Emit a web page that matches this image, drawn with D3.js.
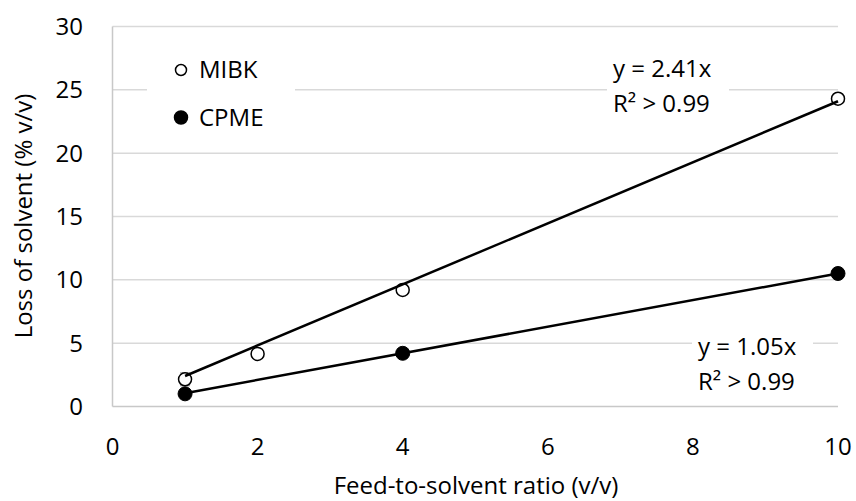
<!DOCTYPE html>
<html>
<head>
<meta charset="utf-8">
<script src="https://cdn.jsdelivr.net/npm/d3@7"></script>
<style>
  body { margin: 0; background: #fff; }
  svg { display: block; font-family: "Open Sans", sans-serif; }
  .tick-label { font-size: 24px; fill: #000; }
  .axis-title { font-size: 24px; fill: #000; }
  .note { font-size: 24px; fill: #000; }
</style>
</head>
<body>
<div id="chart"></div>
<script>
// data
var mibkX = [1, 2, 4, 10];
var mibkY = [2.15, 4.15, 9.2, 24.3];
var mibkErr = [0.5, 0, 0.25, 0];
var cpmeX = [1, 4, 10];
var cpmeY = [1.0, 4.2, 10.5];
var cpmeErr = [0, 0, 0];
var xTicks = [0, 2, 4, 6, 8, 10];
var yTicks = [0, 5, 10, 15, 20, 25, 30];
var fitSlopes = [2.41, 1.05];
var fitRange = [1, 10];
var fitLabels = [["y = 2.41x", "R\u00b2 > 0.99"], ["y = 1.05x", "R\u00b2 > 0.99"]];
var seriesNames = ["MIBK", "CPME"];

var width = 856, height = 501;

var svg = d3.select('#chart').append('svg')
  .attr('width', width)
  .attr('height', height);

var x = d3.scaleLinear().domain([0, 10]).range([112.5, 838]);
var y = d3.scaleLinear().domain([0, 30]).range([406.5, 26.5]);

//gridlines
svg.selectAll('.grid')
  .data(yTicks.filter(function(d) { return d > 0; }))
  .enter().append('line')
    .attr('class', 'grid')
    .attr('x1', x(0)).attr('x2', x(10))
    .attr('y1', function(d) { return y(d); })
    .attr('y2', function(d) { return y(d); })
    .attr('stroke', '#d9d9d9')
    .attr('stroke-width', 1.5);

//axis lines
svg.append('line')
  .attr('x1', x(0)).attr('x2', x(0))
  .attr('y1', y(0)).attr('y2', y(30))
  .attr('stroke', '#c8c8c8').attr('stroke-width', 1.5);
svg.append('line')
  .attr('x1', x(0)).attr('x2', x(10))
  .attr('y1', y(0)).attr('y2', y(0))
  .attr('stroke', '#c8c8c8').attr('stroke-width', 1.5);

//tick labels
svg.selectAll('.ylab')
  .data(yTicks)
  .enter().append('text')
    .attr('class', 'tick-label')
    .attr('x', 83)
    .attr('y', function(d) { return y(d); })
    .attr('dy', '0.35em')
    .attr('text-anchor', 'end')
    .text(function(d) { return d; });

svg.selectAll('.xlab')
  .data(xTicks)
  .enter().append('text')
    .attr('class', 'tick-label')
    .attr('x', function(d) { return x(d); })
    .attr('y', 447)
    .attr('dy', '0.35em')
    .attr('text-anchor', 'middle')
    .text(function(d) { return d; });

//axis titles
svg.append('text')
  .attr('class', 'axis-title')
  .attr('x', 476).attr('y', 494)
  .attr('text-anchor', 'middle')
  .text('Feed-to-solvent ratio (v/v)');

svg.append('text')
  .attr('class', 'axis-title')
  .attr('transform', 'translate(32,216) rotate(-90)')
  .attr('text-anchor', 'middle')
  .text('Loss of solvent (% v/v)');

//error bars
function drawErr(xs, ys, es) {
  var d = xs.map(function(v, i) { return {x: v, y: ys[i], e: es[i]}; })
    .filter(function(p) { return p.e > 0; });
  var g = svg.append('g').attr('stroke', '#a6a6a6').attr('stroke-width', 1.5);
  d.forEach(function(p) {
    g.append('line')
      .attr('x1', x(p.x)).attr('x2', x(p.x))
      .attr('y1', y(p.y - p.e)).attr('y2', y(p.y + p.e));
    g.append('line')
      .attr('x1', x(p.x) - 5).attr('x2', x(p.x) + 5)
      .attr('y1', y(p.y + p.e)).attr('y2', y(p.y + p.e));
    g.append('line')
      .attr('x1', x(p.x) - 5).attr('x2', x(p.x) + 5)
      .attr('y1', y(p.y - p.e)).attr('y2', y(p.y - p.e));
  });
}
drawErr(mibkX, mibkY, mibkErr);
drawErr(cpmeX, cpmeY, cpmeErr);

//markers
svg.selectAll('.mibk')
  .data(mibkX)
  .enter().append('circle')
    .attr('cx', function(d) { return x(d); })
    .attr('cy', function(d, i) { return y(mibkY[i]); })
    .attr('r', 6.5)
    .attr('fill', '#fff')
    .attr('stroke', '#000')
    .attr('stroke-width', 1.5);

svg.selectAll('.cpme')
  .data(cpmeX)
  .enter().append('circle')
    .attr('cx', function(d) { return x(d); })
    .attr('cy', function(d, i) { return y(cpmeY[i]); })
    .attr('r', 7)
    .attr('fill', '#000')
    .attr('stroke', '#000')
    .attr('stroke-width', 1);

//trendlines
fitSlopes.forEach(function(k) {
  svg.append('line')
    .attr('x1', x(fitRange[0])).attr('y1', y(k * fitRange[0]))
    .attr('x2', x(fitRange[1])).attr('y2', y(k * fitRange[1]))
    .attr('stroke', '#000')
    .attr('stroke-width', 2.5);
});

//legend
var leg = svg.append('g');
leg.append('rect')
  .attr('x', 147).attr('y', 50).attr('width', 148).attr('height', 88)
  .attr('fill', '#fff');
seriesNames.forEach(function(name, i) {
  var ly = 70 + i * 47.5;
  leg.append('circle')
    .attr('cx', 181).attr('cy', ly)
    .attr('r', i == 0 ? 5.5 : 6.5)
    .attr('fill', i == 0 ? '#fff' : '#000')
    .attr('stroke', '#000')
    .attr('stroke-width', 1.5);
  leg.append('text')
    .attr('class', 'note')
    .attr('x', 199).attr('y', ly)
    .attr('dy', '0.35em')
    .text(name);
});

//fit labels
var notePos = [[607, 50, 122, 72, 69], [692, 325, 121, 72, 347]];
fitLabels.forEach(function(lines, i) {
  var p = notePos[i];
  svg.append('rect')
    .attr('x', p[0]).attr('y', p[1]).attr('width', p[2]).attr('height', p[3])
    .attr('fill', '#fff');
  lines.forEach(function(t, j) {
    svg.append('text')
      .attr('class', 'note')
      .attr('x', p[0] + 6).attr('y', p[4] + j * 35)
      .attr('dy', '0.35em')
      .text(t);
  });
});
</script>
</body>
</html>
